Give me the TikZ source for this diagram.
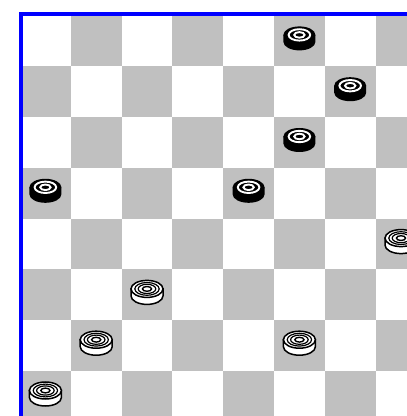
\documentclass[tikz,border=0pt]{standalone}
\usepackage{tikz}
\usetikzlibrary{positioning, calc}

\newcommand{\sq}{50.8}

\begin{document}
\begin{tikzpicture}[
    x=1pt, y=1pt,
    darksq/.style={fill=boardgrey},
    blackman/.pic={
      \fill[black] (-16,6) -- (-16,-1) arc[start angle=180, end angle=360, x radius=16, y radius=8.5] -- (16,6) -- cycle;
      \fill[black] (0,6) ellipse[x radius=16, y radius=8.5];
      \draw[white, line width=1.9] (0,6) ellipse[x radius=10.8, y radius=5.7];
      \draw[white, line width=1.9] (0,6) ellipse[x radius=5.2, y radius=2.8];
    },
    whiteman/.pic={
      \filldraw[fill=white, draw=black, line width=1.5] (-16,6) -- (-16,-1) arc[start angle=180, end angle=360, x radius=16, y radius=8.5] -- (16,6) -- cycle;
      \filldraw[fill=white, draw=black, line width=1.5] (0,6) ellipse[x radius=16, y radius=8.5];
      \draw[black, line width=1.2] (0,6) ellipse[x radius=12.2, y radius=6.4];
      \draw[black, line width=1.2] (0,6) ellipse[x radius=8.8, y radius=4.6];
      \draw[black, line width=1.4] (0,6) ellipse[x radius=4.6, y radius=2.4];
    }
  ]
  \definecolor{boardgrey}{RGB}{192,192,192}
  \useasboundingbox (0,0) rectangle (407,416);
  \fill[white] (0,0) rectangle (407,416);
  \clip (0,0) rectangle (407,416);

  % Felder
  \foreach \r in {0,...,7} {
    \foreach \c in {0,...,7} {
      \pgfmathtruncatemacro{\odd}{mod(\r+\c,2)}
      \ifnum\odd=1
        \fill[darksq] ({20+\c*\sq},{400.5-\r*\sq}) rectangle ++(\sq,-\sq);
      \fi
    }
  }

  % Rand
  \fill[blue] (19,416-12) rectangle (407,416-16);
  \fill[blue] (19,416-12) rectangle (23,0);

  % schwarze Steine
  \foreach \r/\c in {0/5, 1/6, 2/5, 3/0, 3/4}
    \pic at ({20+(\c+0.5)*\sq},{400.5-(\r+0.5)*\sq}) {blackman};

  % weisse Steine
  \foreach \r/\c in {4/7, 5/2, 6/1, 6/5, 7/0}
    \pic at ({20+(\c+0.5)*\sq},{400.5-(\r+0.5)*\sq}) {whiteman};
\end{tikzpicture}
\end{document}
